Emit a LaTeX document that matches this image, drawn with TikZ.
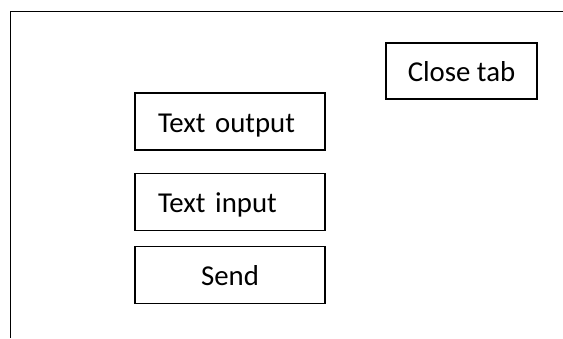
\documentclass[tikz,border=0pt]{standalone}
\usepackage{fontspec}
\setmainfont{Carlito}
\usetikzlibrary{positioning}

\begin{document}
\begin{tikzpicture}
  [button/.style={rectangle,draw=black,line width=0.65pt,minimum width=95pt,minimum height=28.5pt,
                  inner ysep=0pt,text height=13.6pt,text depth=2.9pt,font=\fontsize{14.4pt}{16pt}\selectfont},
   leftbox/.style={button,text width=72pt,inner xsep=11.5pt,align=left},
   frame/.style={line width=0.65pt}]
  \useasboundingbox (0,0) rectangle (281.5pt,169pt);
  \draw[frame] (5.25pt,0pt) -- (5.25pt,163.25pt) -- (281.5pt,163.25pt);
  \node[button,minimum width=75.5pt,minimum height=28pt] (close_tab) at (230.75pt,133.5pt) {Close tab};
  \node[leftbox] (text_output) at (115pt,108.25pt) {Text output};
  \node[leftbox] (text_input) [below=11pt of text_output] {Text input};
  \node[button] (send) [below=7.5pt of text_input] {Send};
\end{tikzpicture}
\end{document}
